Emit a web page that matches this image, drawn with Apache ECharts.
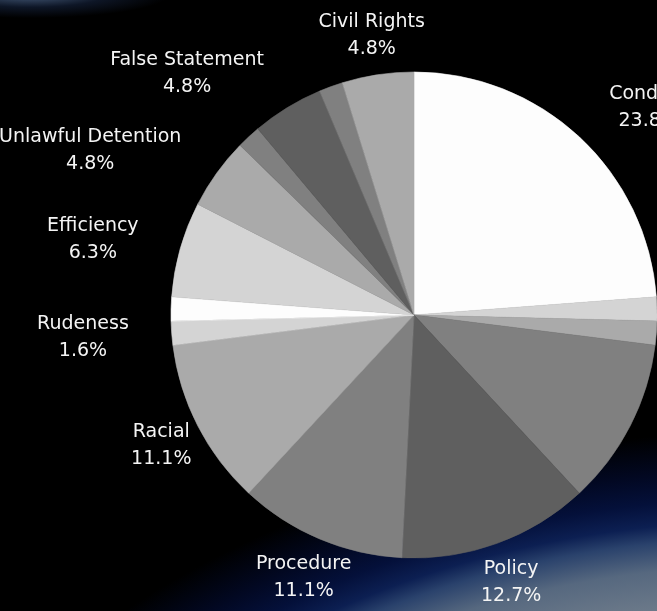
<!DOCTYPE html>
<html>
<head>
<meta charset="utf-8">
<script src="https://cdn.jsdelivr.net/npm/echarts@6/dist/echarts.min.js"></script>
<style>
  html, body { margin: 0; padding: 0; width: 657px; height: 611px; overflow: hidden; }
  body {
    background:
      radial-gradient(ellipse 140px 24px at 30px -6px, rgba(80,105,140,0.9) 0%, rgba(25,40,70,0.55) 55%, rgba(0,0,0,0) 100%),
      radial-gradient(ellipse 840px 559px at 770px 1035px, #8d969f 0%, #75818e 74%, #56687f 84%, #2a426c 89%, #0c1f52 92%, #04103a 96%, #020822 101%, #000 108%),
      #000;
  }
  #chart { width: 657px; height: 611px; }
</style>
</head>
<body>
<div id="chart"></div>
<script>
// ---- data ----
const categories = ['Conduct', 'Harassment', 'Retaliation', 'Force', 'Policy', 'Procedure', 'Racial',
                    'Rudeness', 'Search', 'Efficiency', 'Unlawful Detention', 'Gender', 'False Statement',
                    'Language', 'Civil Rights'];
const values = [15, 1, 1, 7, 8, 7, 7, 1, 1, 4, 3, 1, 3, 1, 3];
const hiddenLabels = ['Harassment', 'Retaliation', 'Force', 'Search', 'Gender', 'Language'];
const palette = ['#fdfdfd', '#d4d4d4', '#aaaaaa', '#808080', '#5f5f5f', '#808080', '#aaaaaa', '#d4d4d4'];

// ---- layout settings ----
const CX = 414, CY = 315, R = 243, GAP = 41, FS = 19, LH = 27;
const PAD = 400;

const total = values.reduce((a, b) => a + b, 0);

function rectHitsCircle(x, y, w, h) {
  const nx = Math.max(x, Math.min(CX, x + w));
  const ny = Math.max(y, Math.min(CY, y + h));
  return Math.hypot(nx - CX, ny - CY) < R;
}

const chart = echarts.init(document.getElementById('chart'), null, { renderer: 'canvas' });
chart.setOption({
  backgroundColor: 'transparent',
  color: palette,
  series: [{
    type: 'pie',
    left: -PAD, right: -PAD, top: 0, bottom: 0,
    center: [CX + PAD, CY],
    radius: R,
    startAngle: 90,
    clockwise: true,
    avoidLabelOverlap: false,
    animation: false,
    label: {
      show: true,
      position: 'outside',
      formatter: function (p) {
        return '{n|' + p.name + '}\n{p|' + (p.value / total * 100).toFixed(1) + '%}';
      },
      color: '#f4f4f4',
      fontFamily: 'DejaVu Sans',
      fontSize: FS,
      rich: {
        n: { align: 'center', color: '#f4f4f4', fontFamily: 'DejaVu Sans', fontSize: FS, lineHeight: LH },
        p: { align: 'center', color: '#f4f4f4', fontFamily: 'DejaVu Sans', fontSize: FS, lineHeight: LH }
      }
    },
    labelLine: { show: false },
    emphasis: { disabled: true },
    labelLayout: function (p) {
      const i = p.dataIndex;
      let before = 0;
      for (let k = 0; k < i; k++) before += values[k];
      const a = (before + values[i] / 2) / total * Math.PI * 2;
      const sx = Math.sin(a), sy = -Math.cos(a);
      const ax = CX + (R + GAP) * sx;
      const ay = CY + (R + GAP) * sy;
      const w = p.labelRect.width;
      const h = FS * 1.2 * 2;
      if (!rectHitsCircle(ax - w / 2, ay - h / 2, w, h)) {
        return { x: ax, y: ay + 1, align: 'center', verticalAlign: 'middle' };
      }
      return { x: ax + (sx < 0 ? -2 : 2), y: ay + 1, align: sx < 0 ? 'right' : 'left', verticalAlign: 'middle' };
    },
    data: categories.map((name, i) => ({
      name: name,
      value: values[i],
      itemStyle: { borderColor: palette[i % palette.length], borderWidth: 0.6 },
      label: { show: hiddenLabels.indexOf(name) < 0 }
    }))
  }]
});
</script>
</body>
</html>
